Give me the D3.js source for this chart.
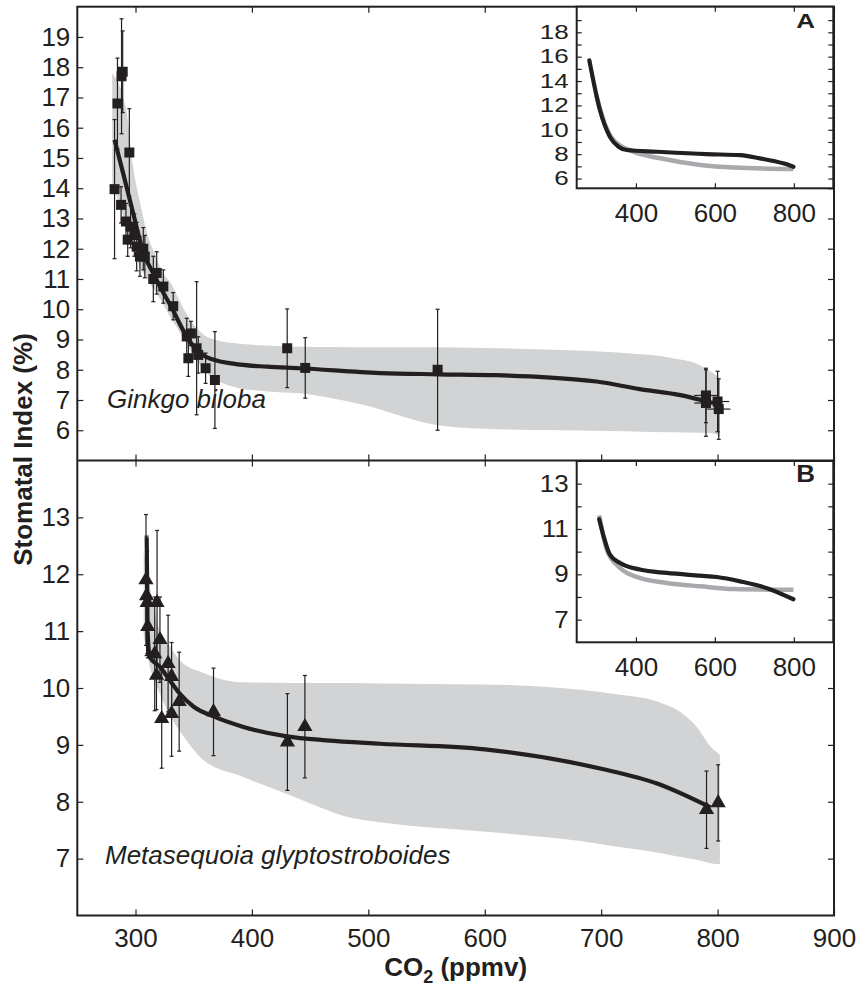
<!DOCTYPE html>
<html>
<head>
<meta charset="utf-8">
<script src="https://cdn.jsdelivr.net/npm/d3@7"></script>
<style>
  body { margin: 0; background: #fff; }
  text { font-family: "Liberation Sans", Arial, sans-serif; fill: #231f20; }
</style>
</head>
<body>
<script>

// ================================ data
// Ginkgo biloba measurements
var ginkgoCO2 = [282, 284.5, 288, 289, 294.7, 287.6, 291.8, 293.3, 295.8, 299, 301, 303.8, 306.7, 308, 315.3, 318.2, 323.9, 332.4, 344, 347.6, 345.4, 352.5, 353.9, 360.2, 368.2, 430.3, 445.8, 559.5, 790, 790, 800, 801];
var ginkgoSI = [13.97, 16.8, 17.7, 17.85, 15.18, 13.45, 12.9, 12.3, 12.73, 12.45, 12.07, 11.74, 12.0, 11.74, 11.0, 11.2, 10.75, 10.1, 9.1, 9.2, 8.38, 8.71, 8.49, 8.05, 7.66, 8.71, 8.06, 8.0, 7.15, 6.9, 6.95, 6.7];
var ginkgoErr = [2.3, 1.5, 1.9, 1.35, 1.45, 0.6, 0.6, 0.55, 0.7, 0.7, 0.8, 0.65, 0.7, 0.7, 0.75, 0.7, 0.55, 0.45, 0.6, 0.4, 0.6, 2.2, 0.6, 0.5, 1.6, 1.3, 1.0, 2.0, 0.9, 1.1, 1.0, 1.0];
var ginkgoXErr = [3, 3, 3, 3, 3, 3, 3, 3, 3, 3, 3, 3, 3, 3, 3, 3, 3, 3, 3, 3, 3, 3, 3, 3, 3, 3, 3, 4, 10, 10, 10, 10];

// Ginkgo fit line and confidence band
var ginkgoFitX = [282, 290, 298, 307, 315, 321, 332, 341, 350, 361, 384, 413, 441, 510, 560, 610, 653, 696, 733, 767, 796];
var ginkgoFitY = [15.6, 14.4, 13.17, 11.85, 11.2, 10.75, 9.98, 9.3, 8.76, 8.42, 8.2, 8.1, 8.05, 7.89, 7.85, 7.82, 7.75, 7.61, 7.36, 7.17, 6.9];
var ginkgoBandX = [280, 292, 298, 304, 310, 318, 321, 332, 335, 347, 361, 384, 413, 441, 470, 500, 530, 555, 600, 667, 720, 762, 785, 796, 802];
var ginkgoBandHi = [17.8, 16.6, 14.7, 13.5, 12.5, 11.7, 11.4, 10.75, 10.5, 9.65, 9.1, 8.88, 8.8, 8.76, 8.75, 8.74, 8.74, 8.74, 8.72, 8.65, 8.55, 8.38, 8.15, 7.89, 7.72];
var ginkgoBandLo = [14.2, 12.73, 12.0, 11.4, 11.0, 10.53, 10.35, 9.6, 9.43, 8.65, 7.9, 7.44, 7.28, 7.22, 7.05, 6.8, 6.45, 6.2, 6.05, 6.0, 5.97, 5.93, 5.92, 5.9, 5.79];

// Metasequoia glyptostroboides measurements
var metaCO2 = [309, 309.5, 310, 310.5, 318.5, 316.5, 321, 318, 322.5, 328, 331, 331, 337.5, 367, 430.5, 445.5, 790.5, 800.5];
var metaSI = [11.9, 11.62, 11.5, 11.08, 11.5, 10.6, 10.85, 10.22, 9.46, 10.43, 10.2, 9.55, 9.76, 9.58, 9.05, 9.32, 7.86, 7.98];
var metaErr = [1.15, 1.05, 0.9, 0.55, 1.27, 1.0, 0.75, 0.6, 0.87, 0.85, 0.6, 0.75, 0.87, 0.77, 0.85, 0.9, 0.68, 0.67];

// Metasequoia fit line and confidence band
var metaFitX = [309.6, 310.4, 312.4, 321, 329.6, 338, 350, 367, 392, 430, 464, 510, 600, 700, 748, 794];
var metaFitY = [12.65, 11.0, 10.54, 10.37, 10.13, 9.9, 9.67, 9.5, 9.32, 9.15, 9.08, 9.02, 8.92, 8.58, 8.32, 7.9];
var metaBandX = [307, 312, 321, 330, 338, 358, 392, 436, 487, 510, 596, 625, 682, 710, 750, 768, 782, 794, 802];
var metaBandHi = [12.4, 11.8, 11.0, 10.72, 10.49, 10.27, 10.1, 10.09, 10.09, 10.08, 10.06, 10.05, 9.97, 9.9, 9.75, 9.58, 9.32, 8.97, 8.82];
var metaBandLo = [10.9, 10.4, 9.9, 9.5, 9.25, 8.74, 8.44, 8.09, 7.71, 7.64, 7.48, 7.43, 7.31, 7.22, 7.1, 7.03, 6.98, 6.92, 6.9];

// inset A (Ginkgo): black and gray curves
var insetABlackX = [282, 309, 334, 356, 377, 453, 579, 664, 714, 773, 799];
var insetABlackY = [15.7, 11.6, 9.43, 8.61, 8.34, 8.2, 8.0, 7.92, 7.66, 7.25, 6.97];
var insetAGrayX = [300, 320, 343, 394, 462, 563, 648, 799];
var insetAGrayY = [12.8, 10.6, 9.16, 8.2, 7.66, 7.11, 6.9, 6.79];

// inset B (Metasequoia): black and gray curves
var insetBBlackX = [307, 318, 334, 360, 410, 478, 563, 605, 664, 732, 799];
var insetBBlackY = [11.43, 10.69, 9.87, 9.5, 9.21, 9.06, 8.94, 8.88, 8.69, 8.39, 7.9];
var insetBGrayX = [307, 326, 360, 410, 478, 563, 648, 799];
var insetBGrayY = [11.6, 10.1, 9.28, 8.84, 8.62, 8.47, 8.35, 8.32];

// ticks
var xTicks = [300, 400, 500, 600, 700, 800, 900];
var ginkgoTicks = [6, 7, 8, 9, 10, 11, 12, 13, 14, 15, 16, 17, 18, 19];
var metaTicks = [7, 8, 9, 10, 11, 12, 13];
var insetXTicks = [400, 600, 800];
var insetATicks = [6, 7, 8, 9, 10, 11, 12, 13, 14, 15, 16, 17, 18, 19];
var insetALabels = [6, 8, 10, 12, 14, 16, 18];
var insetBTicks = [7, 8, 9, 10, 11, 12, 13];
var insetBLabels = [7, 9, 11, 13];

// ================================ layout
var svgWidth = 857;
var svgHeight = 986;
var plotLeft = 77.3, plotRight = 834, plotTop = 6.7, plotMid = 460.5, plotBottom = 915.5;
var insetLeft = 576.7, insetRight = 833.3;
var insetA = { top: 6.7, bottom: 188.3 };
var insetB = { top: 461, bottom: 642.3 };

var black = "#231f20";
var bandGray = "#d1d3d4";
var lineGray = "#a7a9ac";

var svg = d3.select("body")
  .append("svg")
  .attr("width", svgWidth)
  .attr("height", svgHeight);

// scales
var x = d3.scaleLinear().domain([250, 900]).range([plotLeft, plotRight]);
var yTop = d3.scaleLinear().domain([5, 20]).range([plotMid, plotTop]);
var yBot = d3.scaleLinear().domain([6, 14]).range([plotBottom, plotMid]);

var xi = d3.scaleLinear().domain([250, 900]).range([insetLeft, insetRight]);
var yA = d3.scaleLinear().domain([5.2, 20.1]).range([insetA.bottom, insetA.top]);
var yB = d3.scaleLinear().domain([6, 14]).range([insetB.bottom, insetB.top]);

function zip2(xs, ys) { return xs.map(function (v, i) { return { x: v, y: ys[i] }; }); }
function zipBand(xs, lo, hi) { return xs.map(function (v, i) { return { x: v, lo: lo[i], hi: hi[i] }; }); }

// ================================ one main panel
function drawPanel(y, bandRows, fitRows, points, marker) {
  var g = svg.append("g");

  g.append("path")
    .datum(bandRows)
    .attr("fill", bandGray)
    .attr("d", d3.area()
      .x(d => x(d.x))
      .y0(d => y(d.lo))
      .y1(d => y(d.hi))
      .curve(d3.curveMonotoneX));

  g.append("path")
    .datum(fitRows)
    .attr("fill", "none")
    .attr("stroke", black)
    .attr("stroke-width", 4.2)
    .attr("stroke-linejoin", "round")
    .attr("d", d3.line()
      .x(d => x(d.x))
      .y(d => y(d.y))
      .curve(d3.curveMonotoneX));

  // vertical error bars with small caps
  var eb = g.selectAll(".eb")
    .data(points)
    .enter()
    .append("g")
    .attr("class", "eb")
    .attr("stroke", black)
    .attr("stroke-width", 1.2);

  eb.append("line")
    .attr("x1", d => x(d.x)).attr("x2", d => x(d.x))
    .attr("y1", d => y(d.y - d.e)).attr("y2", d => y(d.y + d.e));
  eb.append("line")
    .attr("x1", d => x(d.x) - 2).attr("x2", d => x(d.x) + 2)
    .attr("y1", d => y(d.y + d.e)).attr("y2", d => y(d.y + d.e));
  eb.append("line")
    .attr("x1", d => x(d.x) - 2).attr("x2", d => x(d.x) + 2)
    .attr("y1", d => y(d.y - d.e)).attr("y2", d => y(d.y - d.e));
  eb.filter(d => d.xe)
    .append("line")
    .attr("x1", d => x(d.x - d.xe)).attr("x2", d => x(d.x + d.xe))
    .attr("y1", d => y(d.y)).attr("y2", d => y(d.y));

  g.selectAll(".pt")
    .data(points)
    .enter()
    .append("path")
    .attr("class", "pt")
    .attr("fill", black)
    .attr("transform", d => `translate(${x(d.x)},${y(d.y)})`)
    .attr("d", marker);

  return g;
}

var ginkgoPoints = ginkgoCO2.map((v, i) => ({ x: v, y: ginkgoSI[i], e: ginkgoErr[i], xe: ginkgoXErr[i] }));
var metaPoints = metaCO2.map((v, i) => ({ x: v, y: metaSI[i], e: metaErr[i], xe: 0 }));

// species names go under the error bars
svg.append("text")
  .attr("x", 107).attr("y", 408)
  .style("font-size", "26px").style("font-style", "italic")
  .text("Ginkgo biloba");
svg.append("text")
  .attr("x", 105).attr("y", 864)
  .style("font-size", "26px").style("font-style", "italic")
  .text("Metasequoia glyptostroboides");

drawPanel(yTop, zipBand(ginkgoBandX, ginkgoBandLo, ginkgoBandHi), zip2(ginkgoFitX, ginkgoFitY),
  ginkgoPoints, d3.symbol(d3.symbolSquare, 100)());
drawPanel(yBot, zipBand(metaBandX, metaBandLo, metaBandHi), zip2(metaFitX, metaFitY),
  metaPoints, d3.symbol(d3.symbolTriangle, 100)());

// ================================ main axes
function styleAxis(g) {
  g.select(".domain").remove();
  g.selectAll(".tick line").attr("stroke", black).attr("stroke-width", 1.2);
  g.selectAll("text").style("font-size", "26px").attr("fill", black);
  return g;
}

svg.append("g").attr("transform", `translate(${plotLeft},0)`)
  .call(d3.axisLeft(yTop).tickValues(ginkgoTicks).tickSize(-6).tickPadding(7)).call(styleAxis);
svg.append("g").attr("transform", `translate(${plotLeft},0)`)
  .call(d3.axisLeft(yBot).tickValues(metaTicks).tickSize(-6).tickPadding(7)).call(styleAxis);
svg.append("g").attr("transform", `translate(${plotRight},0)`)
  .call(d3.axisRight(yTop).tickValues(ginkgoTicks).tickSize(-6).tickFormat("")).call(styleAxis);
svg.append("g").attr("transform", `translate(${plotRight},0)`)
  .call(d3.axisRight(yBot).tickValues(metaTicks).tickSize(-6).tickFormat("")).call(styleAxis);

svg.append("g").attr("transform", `translate(0,${plotTop})`)
  .call(d3.axisTop(x).tickValues(xTicks).tickSize(-6).tickFormat("")).call(styleAxis);
svg.append("g").attr("transform", `translate(0,${plotMid})`)
  .call(d3.axisBottom(x).tickValues(xTicks).tickSize(-6).tickFormat("")).call(styleAxis);
svg.append("g").attr("transform", `translate(0,${plotMid})`)
  .call(d3.axisTop(x).tickValues(xTicks).tickSize(-6).tickFormat("")).call(styleAxis);
svg.append("g").attr("transform", `translate(0,${plotBottom})`)
  .call(d3.axisBottom(x).tickValues(xTicks).tickSize(-6).tickPadding(13)).call(styleAxis);

// frame + divider
svg.append("rect")
  .attr("x", plotLeft).attr("y", plotTop)
  .attr("width", plotRight - plotLeft).attr("height", plotBottom - plotTop)
  .attr("fill", "none").attr("stroke", black).attr("stroke-width", 2);
svg.append("line")
  .attr("x1", plotLeft).attr("x2", plotRight)
  .attr("y1", plotMid).attr("y2", plotMid)
  .attr("stroke", black).attr("stroke-width", 2);

// axis titles
svg.append("text")
  .attr("transform", "translate(32,449.5) rotate(-90)")
  .attr("text-anchor", "middle")
  .style("font-size", "26px").style("font-weight", "bold")
  .text("Stomatal Index (%)");

var xTitle = svg.append("text")
  .attr("x", (plotLeft + plotRight) / 2).attr("y", 976)
  .attr("text-anchor", "middle")
  .style("font-size", "26px").style("font-weight", "bold");
xTitle.append("tspan").text("CO");
xTitle.append("tspan").attr("dy", 7).style("font-size", "18px").text("2");
xTitle.append("tspan").attr("dy", -7).text(" (ppmv)");

// ================================ insets
function drawInset(box, y, blackRows, grayRows, ticks, labels, squash, letter) {
  var g = svg.append("g");

  g.append("rect")
    .attr("x", insetLeft).attr("y", box.top)
    .attr("width", insetRight - insetLeft).attr("height", box.bottom - box.top)
    .attr("fill", "#fff");

  var line = d3.line().x(d => xi(d.x)).y(d => y(d.y)).curve(d3.curveMonotoneX);

  g.append("path").datum(grayRows)
    .attr("fill", "none").attr("stroke", lineGray).attr("stroke-width", 4.5)
    .attr("d", line);
  g.append("path").datum(blackRows)
    .attr("fill", "none").attr("stroke", black).attr("stroke-width", 4.2)
    .attr("stroke-linecap", "round")
    .attr("d", line);

  g.append("g").attr("transform", `translate(${insetLeft},0)`)
    .call(d3.axisLeft(y).tickValues(ticks).tickSize(-5).tickPadding(8)
      .tickFormat(d => labels.indexOf(d) >= 0 ? d : ""))
    .call(styleAxis)
    .selectAll("text").attr("transform", `scale(1,${squash})`);
  g.append("g").attr("transform", `translate(${insetRight},0)`)
    .call(d3.axisRight(y).tickValues(ticks).tickSize(-5).tickFormat("")).call(styleAxis);
  g.append("g").attr("transform", `translate(0,${box.top})`)
    .call(d3.axisTop(xi).tickValues(insetXTicks).tickSize(-5).tickFormat("")).call(styleAxis);
  g.append("g").attr("transform", `translate(0,${box.bottom})`)
    .call(d3.axisBottom(xi).tickValues(insetXTicks).tickSize(-5).tickPadding(15)).call(styleAxis);

  g.append("rect")
    .attr("x", insetLeft).attr("y", box.top)
    .attr("width", insetRight - insetLeft).attr("height", box.bottom - box.top)
    .attr("fill", "none").attr("stroke", black).attr("stroke-width", 2);

  g.append("text")
    .attr("transform", `translate(815,${box.top + 21}) scale(1,${squash})`)
    .attr("text-anchor", "end")
    .style("font-size", "26px").style("font-weight", "bold")
    .text(letter);
}

drawInset(insetA, yA, zip2(insetABlackX, insetABlackY), zip2(insetAGrayX, insetAGrayY),
  insetATicks, insetALabels, 0.75, "A");
drawInset(insetB, yB, zip2(insetBBlackX, insetBBlackY), zip2(insetBGrayX, insetBGrayY),
  insetBTicks, insetBLabels, 0.9, "B");

</script>
</body>
</html>
